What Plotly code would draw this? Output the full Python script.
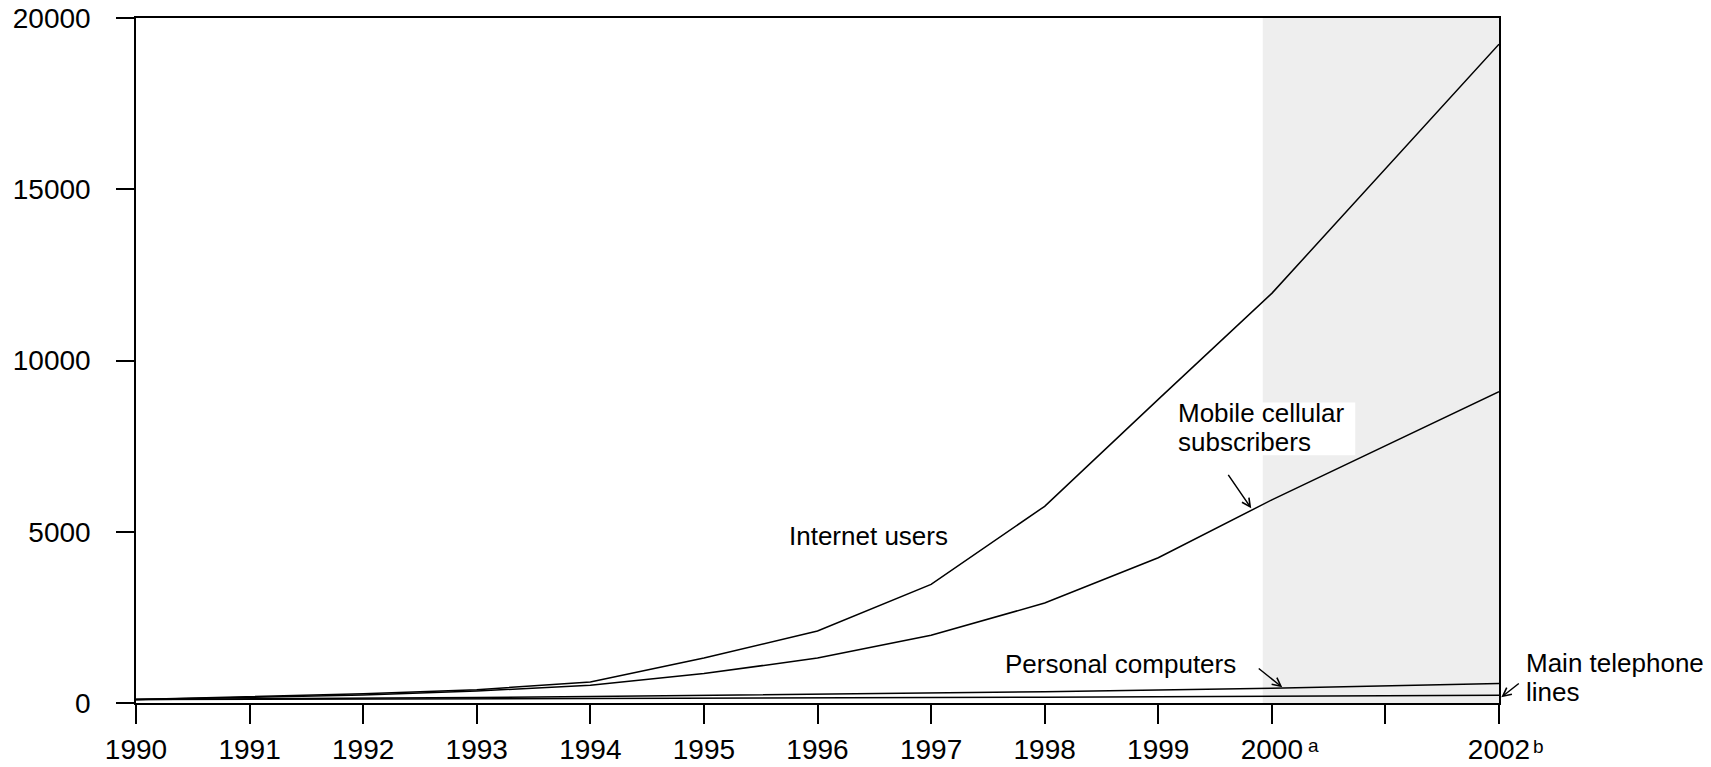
import plotly.graph_objects as go

years = [1990, 1991, 1992, 1993, 1994, 1995, 1996, 1997, 1998, 1999, 2000, 2002]
internet_users = [100, 190, 270, 390, 613, 1313, 2101, 3465, 5743, 8866, 11960, 19235]
mobile_subscribers = [100, 160, 230, 350, 517, 858, 1313, 1976, 2919, 4240, 5931, 9089]
personal_computers = [100, 115, 135, 160, 190, 220, 250, 290, 330, 380, 430, 566]
telephone_lines = [100, 105, 112, 120, 128, 136, 146, 157, 170, 185, 204, 225]

tick_years = [1990, 1991, 1992, 1993, 1994, 1995, 1996, 1997, 1998, 1999, 2000, 2001, 2002]
tick_labels = ["1990", "1991", "1992", "1993", "1994", "1995", "1996", "1997", "1998",
               "1999", "2000", "", "2002"]
y_ticks = [0, 5000, 10000, 15000, 20000]

FONT = "Liberation Sans, Arial, sans-serif"

# pixel helpers (plot area: x 136..1498.7, y 17.5..702.7)
PX_L, PX_R, PY_T, PY_B = 136.0, 1498.7, 17.5, 702.7


def px_to_paper_x(px):
    return (px - PX_L) / (PX_R - PX_L)


def py_to_paper_y(py):
    return (PY_B - py) / (PY_B - PY_T)


def py_to_val(py):
    return (PY_B - py) / (PY_B - PY_T) * 20000


def px_to_year(px):
    return 1990 + (px - PX_L) / (PX_R - PX_L) * 12


fig = go.Figure()
for name, vals in [("Internet users", internet_users),
                   ("Mobile cellular subscribers", mobile_subscribers),
                   ("Personal computers", personal_computers),
                   ("Main telephone lines", telephone_lines)]:
    fig.add_trace(go.Scatter(x=years, y=vals, mode="lines", name=name,
                             line=dict(color="black", width=1.5), showlegend=False))

# shaded projection region
fig.add_shape(type="rect", xref="x", yref="paper", x0=1999.92, x1=2002, y0=0, y1=1,
              fillcolor="#eeeeee", line=dict(width=0), layer="below")
# white box behind mobile label
fig.add_shape(type="rect", xref="x", yref="y", x0=px_to_year(1175), x1=px_to_year(1355),
              y0=py_to_val(455), y1=py_to_val(402),
              fillcolor="white", line=dict(width=0), layer="below")

ann_font = dict(family=FONT, size=26, color="black")
anns = []
anns.append(dict(x=1996.45, y=4866, xref="x", yref="y", text="Internet users",
                 showarrow=False, font=ann_font, xanchor="center", yanchor="middle"))
anns.append(dict(x=px_to_year(1176), y=py_to_val(413), xref="x", yref="y", text="Mobile cellular",
                 showarrow=False, font=ann_font, xanchor="left", yanchor="middle"))
anns.append(dict(x=px_to_year(1176), y=py_to_val(442), xref="x", yref="y", text="subscribers",
                 showarrow=False, font=ann_font, xanchor="left", yanchor="middle"))
anns.append(dict(x=1998.67, y=1130, xref="x", yref="y", text="Personal computers",
                 showarrow=False, font=ann_font, xanchor="center", yanchor="middle"))
anns.append(dict(x=px_to_paper_x(1524), y=py_to_paper_y(663), xref="paper", yref="paper",
                 text="Main telephone", showarrow=False, font=ann_font,
                 xanchor="left", yanchor="middle"))
anns.append(dict(x=px_to_paper_x(1524), y=py_to_paper_y(692), xref="paper", yref="paper",
                 text="lines", showarrow=False, font=ann_font, xanchor="left", yanchor="middle"))
# arrows
arrow_style = dict(text="", showarrow=True, arrowhead=5, arrowsize=1.1, arrowwidth=1.5,
                   arrowcolor="black", axref="pixel", ayref="pixel")
anns.append(dict(x=px_to_paper_x(1251), y=py_to_paper_y(508), xref="paper", yref="paper",
                 ax=-24, ay=-35, **arrow_style))
anns.append(dict(x=px_to_paper_x(1282), y=py_to_paper_y(687), xref="paper", yref="paper",
                 ax=-25, ay=-20, **arrow_style))
anns.append(dict(x=px_to_paper_x(1501), y=py_to_paper_y(697), xref="paper", yref="paper",
                 ax=19, ay=-15, **arrow_style))
# superscripts on tick labels
sup_font = dict(family=FONT, size=19, color="black")
anns.append(dict(x=px_to_paper_x(1306), y=py_to_paper_y(745), xref="paper", yref="paper",
                 text="a", showarrow=False, font=sup_font, xanchor="left", yanchor="middle"))
anns.append(dict(x=px_to_paper_x(1531), y=py_to_paper_y(746), xref="paper", yref="paper",
                 text="b", showarrow=False, font=sup_font, xanchor="left", yanchor="middle"))

fig.update_layout(
    width=1711, height=767,
    margin=dict(l=136, r=212, t=18, b=64, autoexpand=False),
    paper_bgcolor="white", plot_bgcolor="white",
    font=dict(family=FONT, size=28, color="black"),
    annotations=anns,
    xaxis=dict(range=[1990, 2002], tickmode="array", tickvals=tick_years, ticktext=tick_labels,
               showgrid=False, zeroline=False, showline=True, linecolor="black", linewidth=1.5,
               mirror=True, ticks="outside", ticklen=19, tickwidth=1.5, tickcolor="black",
               tickfont=dict(family=FONT, size=28, color="black"), ticklabelstandoff=2),
    yaxis=dict(range=[0, 20000], tickmode="array", tickvals=y_ticks,
               ticktext=[str(v) for v in y_ticks],
               showgrid=False, zeroline=False, showline=True, linecolor="black", linewidth=1.5,
               mirror=True, ticks="outside", ticklen=18, tickwidth=1.5, tickcolor="black",
               tickfont=dict(family=FONT, size=28, color="black"), ticklabelstandoff=20),
)

fig.write_html("out.html", config={"displayModeBar": False},
               post_script="document.body.style.margin='0';document.body.style.overflow='hidden';")
